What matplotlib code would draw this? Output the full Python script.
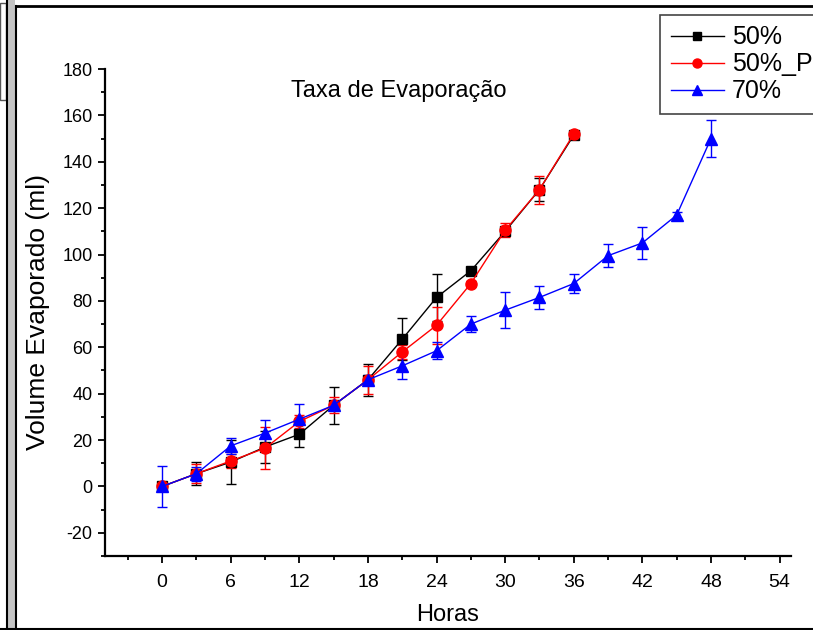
import numpy as np
import matplotlib
matplotlib.use('Agg')
import matplotlib.pyplot as plt
from matplotlib.patches import Rectangle
from matplotlib.lines import Line2D
from matplotlib.ticker import MultipleLocator

plt.rcParams['font.family'] = ['Liberation Sans', 'DejaVu Sans']
plt.rcParams['axes.unicode_minus'] = False

# dados
horas_50 = [0, 3, 6, 9, 12, 15, 18, 21, 24, 27, 30, 33, 36]
vol_50 = [0, 5.5, 10.5, 17, 22.5, 35, 46, 63.5, 81.5, 93, 110, 128, 151.5]
err_50 = [1, 5, 9.5, 7, 5.5, 8, 7, 9, 10, 1.5, 1.5, 5, 1]

horas_50p = [0, 3, 6, 9, 12, 15, 18, 21, 24, 27, 30, 33, 36]
vol_50p = [0, 5.5, 11, 16.5, 28, 35, 46, 58, 69.5, 87.5, 110.5, 128, 152]
err_50p = [1, 4, 3, 9, 3, 3.5, 6, 3, 8, 1, 3, 6, 1]

horas_70 = [0, 3, 6, 9, 12, 15, 18, 21, 24, 27, 30, 33, 36, 39, 42, 45, 48]
vol_70 = [0, 5.5, 17.5, 23, 29, 35, 46, 52, 58.5, 70, 76, 81.5, 87.5, 99.5, 105, 117, 150]
err_70 = [9, 3, 3.5, 5.5, 6.5, 2, 2, 5.5, 3.6, 3.3, 7.7, 5, 4, 5, 7, 1.5, 8]

series = [
    ('50%', horas_50, vol_50, err_50, 'black', 's', 7.5),
    ('50%_P', horas_50p, vol_50p, err_50p, 'red', 'o', 8),
    ('70%', horas_70, vol_70, err_70, 'blue', '^', 9),
]

W, H = 813, 630
fig = plt.figure(figsize=(8.13, 6.30), dpi=100)

# moldura da janela
def fx(x):
    return x / W

def fy(y):
    return 1 - y / H

fig.add_artist(Rectangle((fx(0), fy(100)), fx(6), fy(3) - fy(100), transform=fig.transFigure,
                         facecolor='white', edgecolor='#555555', lw=1))
fig.add_artist(Rectangle((fx(7), 0), fx(8), 1, transform=fig.transFigure,
                         facecolor='#c4c4c4', edgecolor='none'))
fig.add_artist(Line2D([fx(6.5), fx(6.5)], [0, 1], transform=fig.transFigure, color='black', lw=1.5))
fig.add_artist(Line2D([fx(15.5), fx(15.5)], [0, fy(6)], transform=fig.transFigure, color='black', lw=1.5))
fig.add_artist(Line2D([fx(15.5), 1], [fy(6), fy(6)], transform=fig.transFigure, color='black', lw=2))
fig.add_artist(Line2D([0, 1], [fy(628.5), fy(628.5)], transform=fig.transFigure, color='black', lw=1.5))

ax = fig.add_axes([105 / W, 1 - 556 / H, 686 / W, 487 / H])

handles = []
for nome, x, y, e, cor, mk, ms in series:
    ax.errorbar(x, y, yerr=e, color=cor, lw=1, elinewidth=1, capsize=3.5, capthick=1,
                marker=mk, markersize=ms, markeredgecolor=cor, markerfacecolor=cor)
    handles.append(Line2D([], [], color=cor, lw=1, marker=mk, markersize=ms - 1.5,
                          markerfacecolor=cor, markeredgecolor=cor))

ax.set_xlim(-5, 55)
ax.set_ylim(-30, 180)
ax.xaxis.set_major_locator(MultipleLocator(6))
ax.xaxis.set_minor_locator(MultipleLocator(3))
ax.yaxis.set_major_locator(MultipleLocator(20))
ax.yaxis.set_minor_locator(MultipleLocator(10))
ax.set_xticks(range(0, 55, 6))
ax.set_yticks(range(-20, 181, 20))

ax.spines['top'].set_visible(False)
ax.spines['right'].set_visible(False)
ax.spines['left'].set_linewidth(1.6)
ax.spines['bottom'].set_linewidth(1.6)
ax.tick_params(axis='both', which='major', direction='out', length=5, width=1.3)
ax.tick_params(axis='both', which='minor', direction='out', length=3, width=1.3)
ax.tick_params(axis='x', labelsize=14, pad=8)
ax.tick_params(axis='y', labelsize=13, pad=4)

ax.set_xlabel('Horas', fontsize=17, labelpad=9)
ax.set_ylabel('Volume Evaporado (ml)', fontsize=19, labelpad=9)
ax.text(0.4286, 0.955, 'Taxa de Evaporação', transform=ax.transAxes,
        ha='center', va='center', fontsize=17)

leg = fig.legend(handles, ['50%', '50%_P', '70%'], loc='upper left',
                 bbox_to_anchor=(660 / W, 1 - 15 / H), fontsize=18,
                 fancybox=False, framealpha=1, edgecolor='#444444',
                 handlelength=2.15, handletextpad=0.3, labelspacing=0.12,
                 borderpad=0.42, borderaxespad=0)
leg.get_frame().set_linewidth(1.2)

fig.savefig('out.png', dpi=100)
